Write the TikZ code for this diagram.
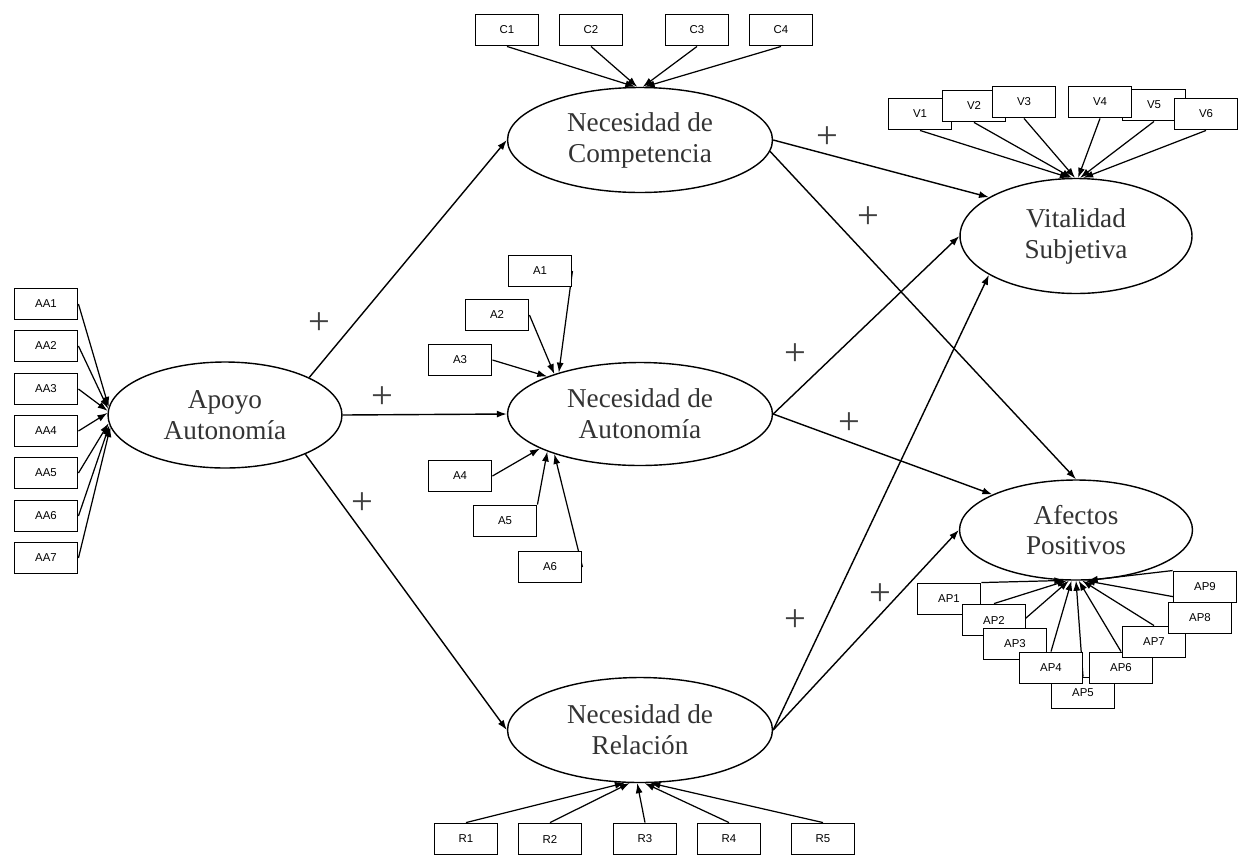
\documentclass[tikz,border=0pt]{standalone}
\usepackage{fontspec}
\setmainfont{Liberation Serif}
\newfontfamily\boxfont{Liberation Sans}
\usetikzlibrary{arrows,arrows.meta,shapes.geometric,backgrounds}
\tikzstyle{latent} = [draw, ellipse, line width=0.8pt, inner sep=0pt, align=center, text=black!80, font=\fontsize{15.5}{17.6}\selectfont]
\tikzstyle{indic} = [draw, fill=white, rectangle, line width=0.8pt, minimum width=1.27cm, minimum height=0.63cm, inner sep=0pt, font=\boxfont\fontsize{6.5}{7}\selectfont]
\tikzstyle{effect} = [draw, line width=0.8pt, ->, >={Latex[length=2mm,width=1.4mm]}]
\tikzstyle{loading} = [draw, line width=0.7pt, ->, >={Latex[length=2mm,width=1.4mm]}]
\tikzstyle{signo} = [inner sep=0pt, text=black!75, font=\fontsize{22}{22}\selectfont]

\begin{document}
\begin{tikzpicture}[x=0.02cm, y=-0.02cm]
    \useasboundingbox (0,0) rectangle (1239,856);
    % latent variables
    \node[latent, minimum width=4.68cm, minimum height=2.12cm] (apoyo) at (225,415) {Apoyo\\Autonomía};
    \node[latent, minimum width=5.3cm, minimum height=2.1cm] (comp) at (640,140) {Necesidad de\\Competencia};
    \node[latent, minimum width=5.3cm, minimum height=2.06cm] (auto) at (640,414) {Necesidad de\\Autonomía};
    \node[latent, minimum width=5.3cm, minimum height=2.1cm] (rel) at (640,730) {Necesidad de\\Relación};
    \node[latent, minimum width=4.64cm, minimum height=2.3cm] (vital) at (1076,236) {Vitalidad\\Subjetiva};
    \node[latent, minimum width=4.66cm, minimum height=2.0cm] (afec) at (1076,530) {Afectos\\Positivos};

    % observed items
    \foreach \i/\y in {1/304,2/346,3/389,4/431,5/473,6/516,7/558}
        \node[indic] (aa\i) at (46,\y) {AA\i};
    \foreach \i/\x in {1/507,2/591,3/697,4/781}
        \node[indic] (c\i) at (\x,30) {C\i};
    \foreach \i/\x/\y in {1/920/114,2/974/106,3/1024/102,5/1154/105,4/1100/102,6/1206/114}
        \node[indic] (v\i) at (\x,\y) {V\i};
    \foreach \i/\x/\y in {1/540/271,2/497/315,3/460/360,4/460/476,5/505/521,6/550/567}
        \node[indic] (a\i) at (\x,\y) {A\i};
    \foreach \i/\x in {1/466,2/550,3/645,4/729,5/823}
        \node[indic] (r\i) at (\x,839) {R\i};
    \foreach \i/\x/\y in {1/949/599,2/994/620,3/1015/644,5/1083/693,4/1051/668,6/1121/668,7/1154/642,8/1200/618,9/1205/587}
        \node[indic] (ap\i) at (\x,\y) {AP\i};

    % signs
    \foreach \n/\x/\y in {1/319/324,2/382/398,3/362/504,4/827/138,5/868/218,6/795/355,7/849/424,8/795/621,9/880/595}
        \node[signo] (plus\n) at (\x,\y) {+};

    \begin{pgfonlayer}{background}
    % structural paths
    \draw (apoyo.24) edge[effect] (comp.west)
    (apoyo.east) edge[effect] (auto.west)
    (apoyo.-26) edge[effect] (rel.west)
    (comp.east) edge[effect] (vital.156)
    (comp.-5) edge[effect] (afec.north)
    (auto.east) edge[effect] (vital.west)
    (auto.east) edge[effect] (afec.157)
    (rel.east) edge[effect] (vital.204)
    (rel.east) edge[effect] (afec.west);

    % measurement paths
    \foreach \i/\a in {1/176,2/177,3/178,4/179,5/184,6/185,7/186}
        \draw[loading] (aa\i.east) -- (apoyo.\a);
    \foreach \i/\a in {1/95,2/93,3/87,4/85}
        \draw[loading] (c\i.south) -- (comp.\a);
    \foreach \i/\a in {1/96,2/94,3/91,4/88,5/86,6/83}
        \draw[loading] (v\i.south) -- (vital.\a);
    \foreach \i/\s/\a in {1/east/153,2/east/155,3/east/158,4/east/199,5/north east/202,6/east/205}
        \draw[loading] (a\i.\s) -- (auto.\a);
    \foreach \i/\a in {1/254,2/259,3/267,4/275,5/281}
        \draw[loading] (r\i.north) -- (rel.\a);
    \foreach \i/\s/\a in {1/north east/257,2/north/260,3/north/262,4/north/265,5/north/270,6/north/273,7/north/277,8/north/280,9/north west/283}
        \draw[loading] (ap\i.\s) -- (afec.\a);
    \end{pgfonlayer}
\end{tikzpicture}
\end{document}
